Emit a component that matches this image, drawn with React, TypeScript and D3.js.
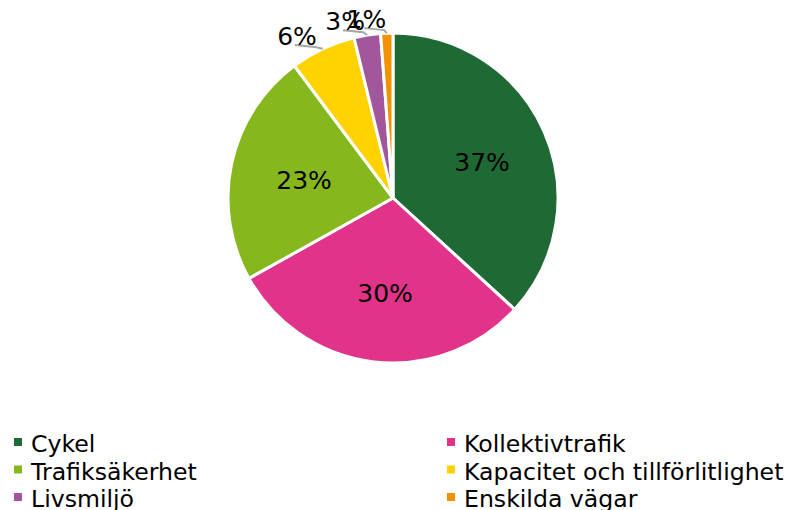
import React from "react";
import * as d3 from "d3";

const categories = ["Cykel", "Kollektivtrafik", "Trafiksäkerhet", "Kapacitet och tillförlitlighet", "Livsmiljö", "Enskilda vägar"];
const values = [36.8, 30.1, 22.9, 6.4, 2.6, 1.2];
const labels = ["37%", "30%", "23%", "6%", "3%", "1%"];
const colors = ["#1f6934", "#e2338a", "#86b71d", "#ffd200", "#a0579c", "#f39200"];
const outsideLabel = [false, false, false, true, true, true];

const W = 789;
const H = 510;
const cx = 393;
const cy = 198;
const R = 165;
const FONT = "'DejaVu Sans', Verdana, sans-serif";

export default function App() {
  const data = categories.map((c, i) => ({ name: c, value: values[i], i }));
  const pie = d3.pie<any>().value((d) => d.value).sort(null);
  const arcs = pie(data);
  const arc = d3.arc<any>().innerRadius(0).outerRadius(R);
  const labelR = 94;
  const outR = R + 14;

  return (
    <svg width={W} height={H} style={{ position: "absolute", left: 0, top: 0, background: "#fff" }}>
      <g transform={`translate(${cx},${cy})`}>
        {arcs.map((a, i) => (
          <path key={i} d={arc(a) || ""} fill={colors[i]} stroke="#fff" strokeWidth={3} strokeLinejoin="round" />
        ))}
        {arcs.map((a, i) => {
          const mid = (a.startAngle + a.endAngle) / 2;
          if (!outsideLabel[i]) {
            const x = Math.sin(mid) * labelR;
            const y = -Math.cos(mid) * labelR;
            return (
              <text key={i} x={x + 3} y={y + 2} textAnchor="middle" dominantBaseline="central" fontFamily={FONT} fontSize={25} fill="#000">
                {labels[i]}
              </text>
            );
          }
          const x0 = Math.sin(mid) * R;
          const y0 = -Math.cos(mid) * R;
          const x1 = Math.sin(mid) * outR;
          const y1 = -Math.cos(mid) * outR;
          return (
            <g key={i}>
              <polyline
                points={`${x0},${y0} ${x1 - 2},${y1 + 11} ${x1 - 22},${y1 + 9}`}
                fill="none"
                stroke="#a6a6a6"
                strokeWidth={2}
              />
              <text x={x1} y={y1} textAnchor="end" dominantBaseline="central" fontFamily={FONT} fontSize={25} fill="#000">
                {labels[i]}
              </text>
            </g>
          );
        })}
      </g>
      <g fontFamily={FONT} fontSize={23.6} fill="#000">
        {categories.map((c, i) => {
          const col = i % 2;
          const row = Math.floor(i / 2);
          const x = col === 0 ? 14 : 447;
          const y = 452 + row * 27.5;
          return (
            <g key={i}>
              <rect x={x} y={y - 14} width={8} height={8} fill={colors[i]} />
              <text x={x + 17} y={y}>{c}</text>
            </g>
          );
        })}
      </g>
    </svg>
  );
}
